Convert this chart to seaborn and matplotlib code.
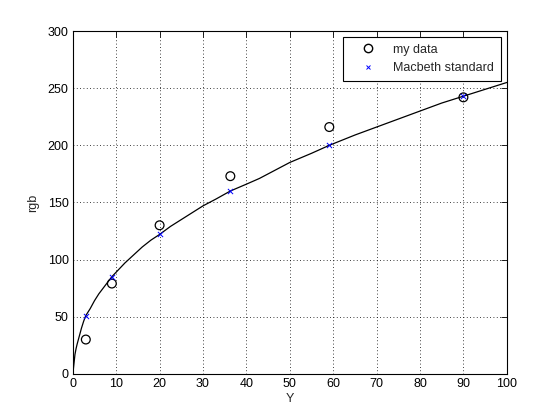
import numpy as np
import matplotlib
matplotlib.use("Agg")
import matplotlib.pyplot as plt
import seaborn as sns
from matplotlib.lines import Line2D

# measured points
my_Y = [3.0, 9.0, 20.0, 36.3, 59.1, 90.0]
my_rgb = [30, 79, 130, 173, 216, 242]

mac_Y = [3.0, 9.0, 20.0, 36.3, 59.1, 90.0]
mac_rgb = [51, 85, 122, 160, 200, 243]

# reference curve
curve_Y = [0.0, 0.1, 0.3, 0.5, 0.75, 1, 1.5, 2, 2.5, 3, 4, 5, 6, 7, 8, 9, 10,
           12, 14, 16, 18, 20, 22.5, 25, 27.5, 30, 33, 36.3, 40, 43, 46, 50,
           55, 59.1, 65, 70, 75, 80, 85, 90, 95, 100]
curve_rgb = [0, 3, 10, 17, 22, 26, 33, 40, 46, 51, 57, 64, 70, 75, 80, 85, 89,
             97, 104, 111, 117, 122, 129, 135, 141, 147, 153, 160, 166, 171, 177, 185,
             193, 200, 209, 216, 223, 230, 237, 243, 249, 255]

sns.set_theme(style="white")
plt.rcParams["font.family"] = ["Liberation Sans", "DejaVu Sans"]
plt.rcParams["font.size"] = 9

fig = plt.figure(figsize=(5.6, 4.2), dpi=100)
ax = fig.add_axes([0.130, 0.110, 0.775, 0.816])

sns.lineplot(x=curve_Y, y=curve_rgb, color="black", linewidth=0.9, ax=ax,
             estimator=None, sort=False)
sns.scatterplot(x=my_Y, y=my_rgb, marker="o", s=40, facecolors="none",
                edgecolor="black", linewidth=0.9, ax=ax, zorder=3)
sns.scatterplot(x=mac_Y, y=mac_rgb, marker="x", s=14, color="blue",
                linewidth=0.7, ax=ax, zorder=4)

ax.set_xlim(0, 100)
ax.set_ylim(0, 300)
ax.set_xticks(np.arange(0, 101, 10))
ax.set_yticks(np.arange(0, 301, 50))
ax.grid(True, color="black", linestyle=(0, (1, 3)), linewidth=0.6)
ax.tick_params(direction="in", length=4, width=0.6, top=True, right=True,
               labelsize=9, pad=3, colors="black")
for s in ax.spines.values():
    s.set_color("black")
    s.set_linewidth(0.8)
ax.set_xlabel("Y", fontsize=9, labelpad=2)
ax.set_ylabel("rgb", fontsize=9, labelpad=6)

handles = [
    Line2D([], [], linestyle="none", marker="o", markerfacecolor="none",
           markeredgecolor="black", markersize=6),
    Line2D([], [], linestyle="none", marker="x", color="blue", markersize=3.5,
           markeredgewidth=0.7),
]
leg = ax.legend(handles, ["my data", "Macbeth standard"], loc="upper right",
                fancybox=False, framealpha=1, edgecolor="black", fontsize=9,
                borderaxespad=0.45, handlelength=3.0, handletextpad=0.5,
                borderpad=0.55, labelspacing=0.55)
leg.get_frame().set_linewidth(0.8)

fig.savefig("out.png", dpi=100, facecolor="white")
